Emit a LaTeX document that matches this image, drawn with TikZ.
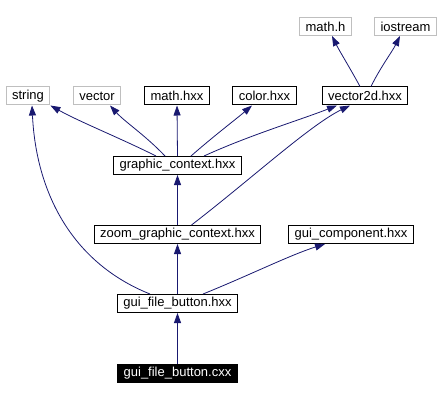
\documentclass[tikz,border=0pt]{standalone}
\usepackage{fontspec}
\setmainfont{Liberation Sans}
\usetikzlibrary{arrows.meta}
\definecolor{edgeblue}{HTML}{191970}
\definecolor{sysgray}{HTML}{BFBFBF}
\tikzset{
  file/.style={draw=black, line width=1pt, inner xsep=6pt, inner ysep=0pt,
    minimum height=18pt, font=\fontsize{13}{15}\selectfont},
  sysfile/.style={file, draw=sysgray},
  mainfile/.style={file, fill=black, text=white},
  dep/.style={draw=edgeblue, line width=0.8pt,
    -{Triangle[length=10pt,width=7pt]}},
}
\begin{document}
\begin{tikzpicture}[x=1pt,y=-1pt]
  \useasboundingbox (0,0) rectangle (441,401);
  % system headers
  \node[sysfile] (mathh) at (325.5,26.5) {math.h};
  \node[sysfile] (iostream) at (405.5,26.5) {iostream};
  \node[sysfile] (string) at (28,96) {string};
  \node[sysfile] (vector) at (97,96) {vector};
  % project headers
  \node[file] (mathhxx) at (177,96) {math.hxx};
  \node[file] (colorhxx) at (264.5,96) {color.hxx};
  \node[file] (vectorhxx) at (365,96) {vector2d.hxx};
  \node[file] (gc) at (177.5,165.5) {graphic\_context.hxx};
  \node[file] (zoomgc) at (177.5,234.5) {zoom\_graphic\_context.hxx};
  \node[file] (guicomp) at (351,234.5) {gui\_component.hxx};
  \node[file] (gfbh) at (177.5,303.5) {gui\_file\_button.hxx};
  \node[mainfile] (gfbc) at (177.5,373) {gui\_file\_button.cxx};

  \draw[dep] (gfbc.north) -- (gfbh.south);
  \draw[dep] (gfbh.north) -- (zoomgc.south);
  \draw[dep] ([xshift=25.5pt]gfbh.north) .. controls (250,275) and (290,255) .. ([xshift=-26pt]guicomp.south);
  \draw[dep] ([xshift=-27.5pt]gfbh.north) .. controls (70,262) and (36,190) .. ([xshift=4pt]string.south);
  \draw[dep] (zoomgc.north) -- (gc.south);
  \draw[dep] ([xshift=14pt]zoomgc.north) .. controls (250,180) and (310,125) .. ([xshift=-15pt]vectorhxx.south);
  \draw[dep] ([xshift=-21.5pt]gc.north) .. controls (120,138) and (80,122) .. (string.south east);
  \draw[dep] ([xshift=-12.5pt]gc.north) .. controls (145,135) and (125,122) .. ([xshift=13pt]vector.south);
  \draw[dep] (gc.north) -- (mathhxx.south);
  \draw[dep] ([xshift=13.5pt]gc.north) .. controls (215,135) and (235,120) .. ([xshift=-12.5pt]colorhxx.south);
  \draw[dep] ([xshift=26.5pt]gc.north) .. controls (250,135) and (300,120) .. ([xshift=-28pt]vectorhxx.south);
  \draw[dep] ([xshift=-5pt]vectorhxx.north) .. controls (350,68) and (340,52) .. ([xshift=6.5pt]mathh.south);
  \draw[dep] ([xshift=6pt]vectorhxx.north) .. controls (380,68) and (392,52) .. ([xshift=-5.5pt]iostream.south);
\end{tikzpicture}
\end{document}
